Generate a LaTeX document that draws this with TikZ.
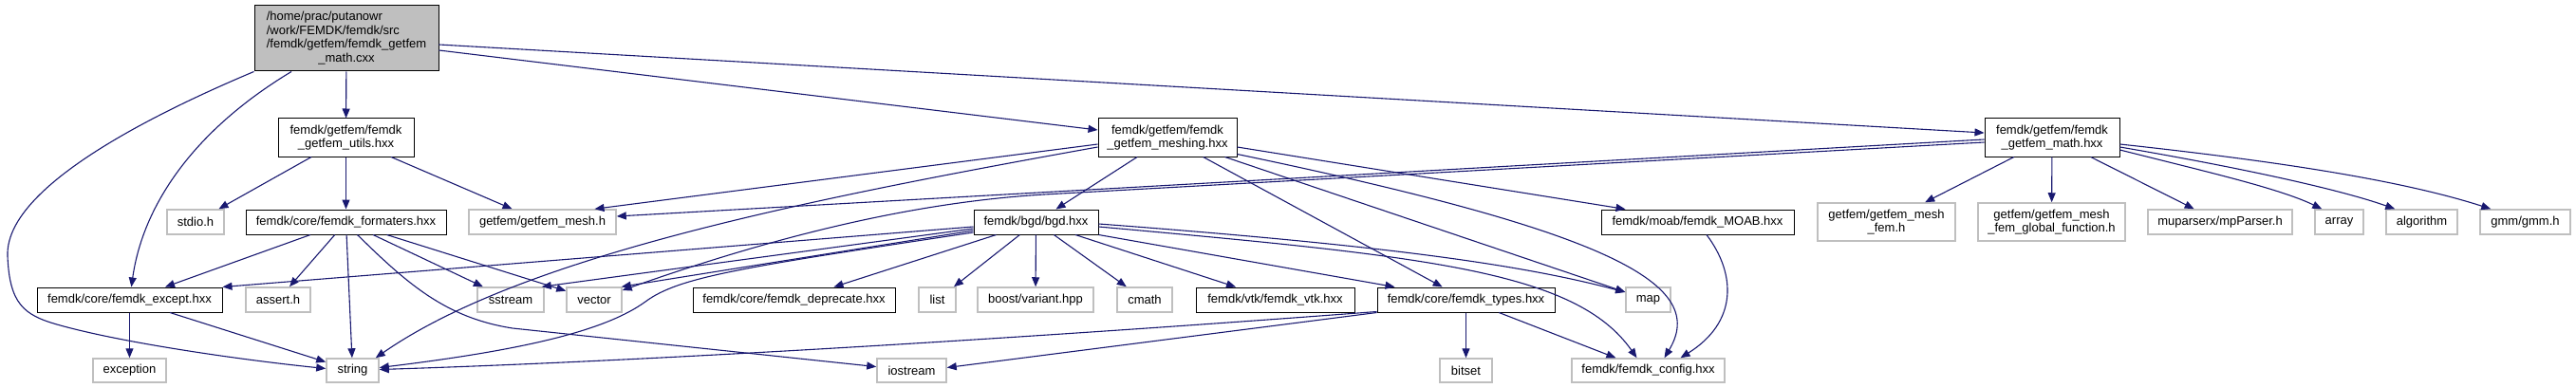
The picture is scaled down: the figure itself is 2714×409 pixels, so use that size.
\documentclass[tikz,border=0pt]{standalone}
\usepackage{fontspec}
\setmainfont{Liberation Sans}
\usetikzlibrary{calc,arrows.meta}
\definecolor{mblue}{RGB}{25,25,112}
\definecolor{graybd}{RGB}{191,191,191}
\definecolor{mainfill}{RGB}{191,191,191}
\tikzset{
  box/.style={draw=black, line width=1pt, inner sep=0pt, fill=white,
    font=\fontsize{13}{14.5}\selectfont, align=center},
  sysbox/.style={box, draw=graybd, line width=1.5pt},
  edge/.style={draw=mblue, line width=1.1pt, -{Triangle[length=10pt,width=8pt]}, fill=none},
}
\begin{document}
\begin{tikzpicture}[x=1pt,y=-1pt]
\useasboundingbox (0,0) rectangle (2714,409);
% nodes
\node[box, fill=mainfill, minimum width=194pt, minimum height=69pt] (main) at (365,40.5)
  {\begin{tabular}{@{}l@{}}/home/prac/putanowr\\/work/FEMDK/femdk/src\\/femdk/getfem/femdk\_getfem\\\multicolumn{1}{@{}c@{}}{\_math.cxx}\end{tabular}};
\node[box, minimum width=143pt, minimum height=40pt] (utils) at (364.5,145) {femdk/getfem/femdk\\\_getfem\_utils.hxx};
\node[sysbox, minimum width=60pt, minimum height=26pt] (stdio) at (206,234) {stdio.h};
\node[box, minimum width=211pt, minimum height=26pt] (formaters) at (364.5,234) {femdk/core/femdk\_formaters.hxx};
\node[sysbox, minimum width=155pt, minimum height=26pt] (gmesh) at (571.5,234) {getfem/getfem\_mesh.h};
\node[box, minimum width=195pt, minimum height=26pt] (except) at (136.5,316) {femdk/core/femdk\_except.hxx};
\node[sysbox, minimum width=68pt, minimum height=26pt] (assert) at (293,316) {assert.h};
\node[sysbox, minimum width=70pt, minimum height=26pt] (sstream) at (538,316) {sstream};
\node[sysbox, minimum width=58pt, minimum height=26pt] (vector) at (626,316) {vector};
\node[box, minimum width=213pt, minimum height=26pt] (deprecate) at (836.5,316) {femdk/core/femdk\_deprecate.hxx};
\node[sysbox, minimum width=39pt, minimum height=26pt] (list) at (987.5,316) {list};
\node[sysbox, minimum width=122pt, minimum height=26pt] (boost) at (1091,316) {boost/variant.hpp};
\node[sysbox, minimum width=58pt, minimum height=26pt] (cmath) at (1206,316) {cmath};
\node[box, minimum width=167pt, minimum height=26pt] (vtk) at (1343.5,316) {femdk/vtk/femdk\_vtk.hxx};
\node[box, minimum width=187pt, minimum height=26pt] (types) at (1544.5,316) {femdk/core/femdk\_types.hxx};
\node[sysbox, minimum width=47pt, minimum height=26pt] (map) at (1736.5,316) {map};
\node[sysbox, minimum width=77pt, minimum height=25pt] (exception) at (136.5,390.5) {exception};
\node[sysbox, minimum width=55pt, minimum height=25pt] (string) at (371.5,390.5) {string};
\node[sysbox, minimum width=73pt, minimum height=25pt] (iostream) at (960.5,390.5) {iostream};
\node[sysbox, minimum width=55pt, minimum height=25pt] (bitset) at (1544.5,390.5) {bitset};
\node[sysbox, minimum width=161pt, minimum height=25pt] (config) at (1736.5,390.5) {femdk/femdk\_config.hxx};
\node[box, minimum width=146pt, minimum height=40pt] (meshing) at (1230,145) {femdk/getfem/femdk\\\_getfem\_meshing.hxx};
\node[box, minimum width=131pt, minimum height=26pt] (bgd) at (1091.5,234) {femdk/bgd/bgd.hxx};
\node[box, minimum width=203pt, minimum height=26pt] (moab) at (1788.5,234) {femdk/moab/femdk\_MOAB.hxx};
\node[sysbox, minimum width=145pt, minimum height=40pt] (meshfem) at (1987.5,234) {getfem/getfem\_mesh\\\_fem.h};
\node[box, minimum width=142pt, minimum height=40pt] (math) at (2162,145) {femdk/getfem/femdk\\\_getfem\_math.hxx};
\node[sysbox, minimum width=155pt, minimum height=40pt] (meshfemgf) at (2161.5,234) {getfem/getfem\_mesh\\\_fem\_global\_function.h};
\node[sysbox, minimum width=152pt, minimum height=26pt] (mpparser) at (2339,234) {muparserx/mpParser.h};
\node[sysbox, minimum width=51pt, minimum height=26pt] (array) at (2464.5,234) {array};
\node[sysbox, minimum width=75pt, minimum height=26pt] (algorithm) at (2551.5,234) {algorithm};
\node[sysbox, minimum width=95pt, minimum height=26pt] (gmm) at (2660.5,234) {gmm/gmm.h};
% edges from main
\draw[edge] (main) -- (utils);
\draw[edge] (main) .. controls (200,140) and (150,220) .. (except);
\draw[edge] (main.south west) .. controls (150,125) and (5,200) .. (8,270) .. controls (10,320) and (25,332) .. (60,342) .. controls (130,362) and (260,380) .. ($(string.west)+(0,-2)$);
\draw[edge] ($(main.east)+(0,12.5)$) -- ($(meshing.west)+(0,-8)$);
\draw[edge] ($(main.east)+(0,6.5)$) -- ($(math.west)+(0,-5)$);
% utils
\draw[edge] (utils) -- (stdio);
\draw[edge] (utils) -- (formaters);
\draw[edge] (utils) -- (gmesh);
% formaters
\draw[edge] (formaters) -- (except);
\draw[edge] (formaters) -- (assert);
\draw[edge] (formaters) -- (string);
\draw[edge] ($(formaters.south)+(12,0)$) .. controls (430,300) and (470,335) .. (540,346) -- (iostream);
\draw[edge] (formaters) -- (sstream);
\draw[edge] (formaters) -- (vector);
% except
\draw[edge] (except) -- (exception);
\draw[edge] (except) -- (string);
% meshing
\draw[edge] ($(meshing.west)+(0,7)$) -- ($(gmesh.north)+(55,0)$);
\draw[edge] ($(meshing.west)+(0,10)$) .. controls (850,210) and (550,270) .. ($(string.north east)+(-4,0)$);
\draw[edge] (meshing) -- (bgd);
\draw[edge] (meshing) -- (types);
\draw[edge] (meshing) -- (map);
\draw[edge] ($(meshing.south east)+(0,-3)$) .. controls (1700,245) and (1800,300) .. ($(config.north)+(17,0)$);
\draw[edge] ($(meshing.east)+(0,10)$) -- ($(moab.north west)+(26,0)$);
% bgd
\draw[edge] ($(bgd.west)+(0,5)$) -- (except.north east);
\draw[edge] ($(bgd.west)+(0,7)$) -- ($(sstream.north east)+(-3,0)$);
\draw[edge] ($(bgd.west)+(0,9)$) -- ($(vector.north east)+(-1,0)$);
\draw[edge] ($(bgd.west)+(0,11)$) .. controls (780,282) and (715,292) .. (680,318) .. controls (640,347) and (560,368) .. ($(string.east)+(0,-3)$);
\draw[edge] (bgd) -- (deprecate);
\draw[edge] (bgd) -- (list);
\draw[edge] (bgd) -- (boost);
\draw[edge] (bgd) -- (cmath);
\draw[edge] (bgd) -- (vtk);
\draw[edge] (bgd.south east) -- ($(types.north west)+(19,0)$);
\draw[edge] ($(bgd.east)+(0,2)$) .. controls (1450,258) and (1600,278) .. ($(map.west)+(0,-8)$);
\draw[edge] ($(bgd.east)+(0,5)$) .. controls (1500,270) and (1660,285) .. ($(config.north)+(-12,0)$);
% types
\draw[edge] (types) -- (bitset);
\draw[edge] (types) -- (config);
\draw[edge] ($(types.south west)+(0,-1)$) .. controls (1100,355) and (700,380) .. ($(string.east)+(0,-1)$);
\draw[edge] (types.south west) -- ($(iostream.east)+(0,-3)$);
% moab
\draw[edge] ($(moab.south)+(9.5,0)$) .. controls (1830,290) and (1830,340) .. ($(config.north)+(34,0)$);
% math
\draw[edge] ($(math.west)+(0,2)$) -- ($(gmesh.east)+(0,-6)$);
\draw[edge] ($(math.west)+(0,5)$) -- (1100,205) .. controls (950,214) and (800,255) .. ($(vector.east)+(0,-10)$);
\draw[edge] (math) -- (meshfem);
\draw[edge] (math) -- (meshfemgf);
\draw[edge] (math) -- (mpparser);
\draw[edge] ($(math.east)+(0,13)$) .. controls (2320,180) and (2400,198) .. ($(array.north west)+(8,0)$);
\draw[edge] ($(math.east)+(0,10)$) .. controls (2350,175) and (2460,198) .. ($(algorithm.north west)+(10,0)$);
\draw[edge] ($(math.east)+(0,7)$) .. controls (2400,170) and (2530,190) .. ($(gmm.north west)+(12,0)$);
\end{tikzpicture}
\end{document}
